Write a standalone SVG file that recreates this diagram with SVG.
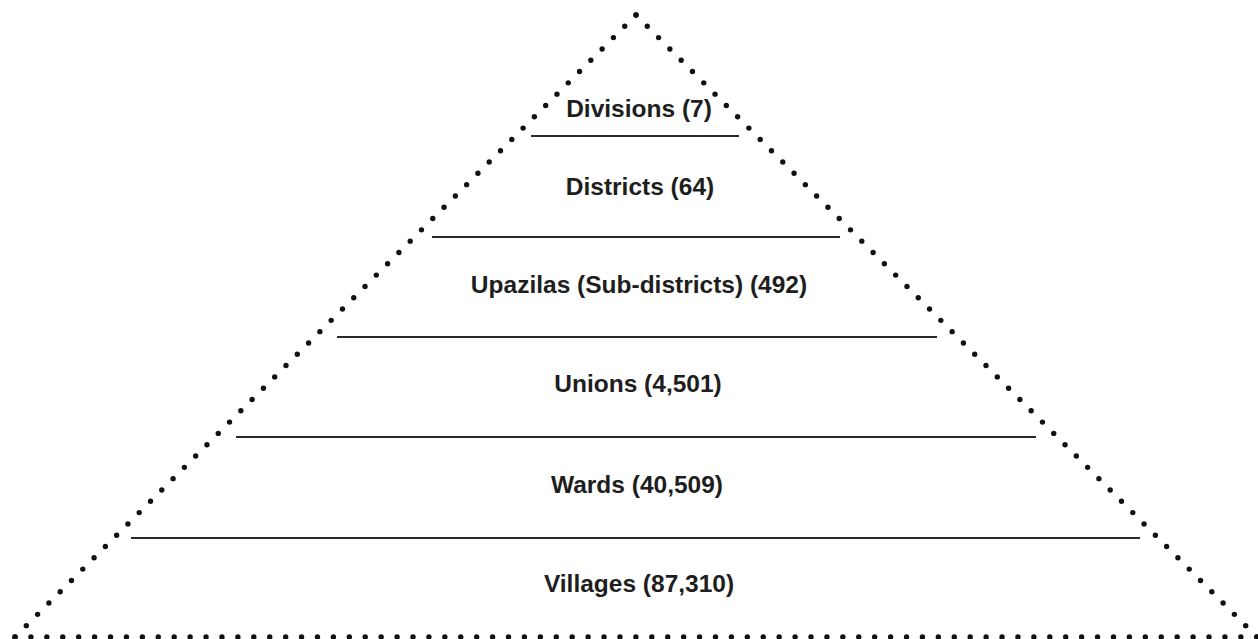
<svg xmlns="http://www.w3.org/2000/svg" width="1258" height="639" viewBox="0 0 1258 639">
<style>
.dot{fill:none;stroke:#111;stroke-width:5.4;stroke-linecap:round}
.sep{stroke:#2a2a2a;stroke-width:2}
.lbl{font-family:"Liberation Sans",Arial,sans-serif;font-weight:bold;font-size:24.5px;fill:#1e1e1e;text-anchor:middle}
</style>
<rect width="1258" height="639" fill="#fff"/>
<g id="pyramid-outline">
<line class="dot" x1="636" y1="15" x2="15" y2="637" stroke-dasharray="0 15.98"/>
<line class="dot" x1="636" y1="15" x2="1257" y2="637" stroke-dasharray="0 15.98"/>
<line class="dot" x1="15" y1="637" x2="1257" y2="637" stroke-dasharray="0 15.92"/>
</g>
<g id="connectors">
<line class="sep" x1="531" y1="136" x2="739" y2="136"/>
<line class="sep" x1="432" y1="237" x2="840" y2="237"/>
<line class="sep" x1="337" y1="337" x2="937" y2="337"/>
<line class="sep" x1="236" y1="437" x2="1036" y2="437"/>
<line class="sep" x1="131" y1="538" x2="1140" y2="538"/>
</g>
<g id="divisions"><text class="lbl" x="639" y="117">Divisions (7)</text></g>
<g id="districts"><text class="lbl" x="640" y="195">Districts (64)</text></g>
<g id="upazilas"><text class="lbl" x="639" y="293">Upazilas (Sub-districts) (492)</text></g>
<g id="unions"><text class="lbl" x="638" y="392">Unions (4,501)</text></g>
<g id="wards"><text class="lbl" x="637" y="493">Wards (40,509)</text></g>
<g id="villages"><text class="lbl" x="639" y="592">Villages (87,310)</text></g>
</svg>
